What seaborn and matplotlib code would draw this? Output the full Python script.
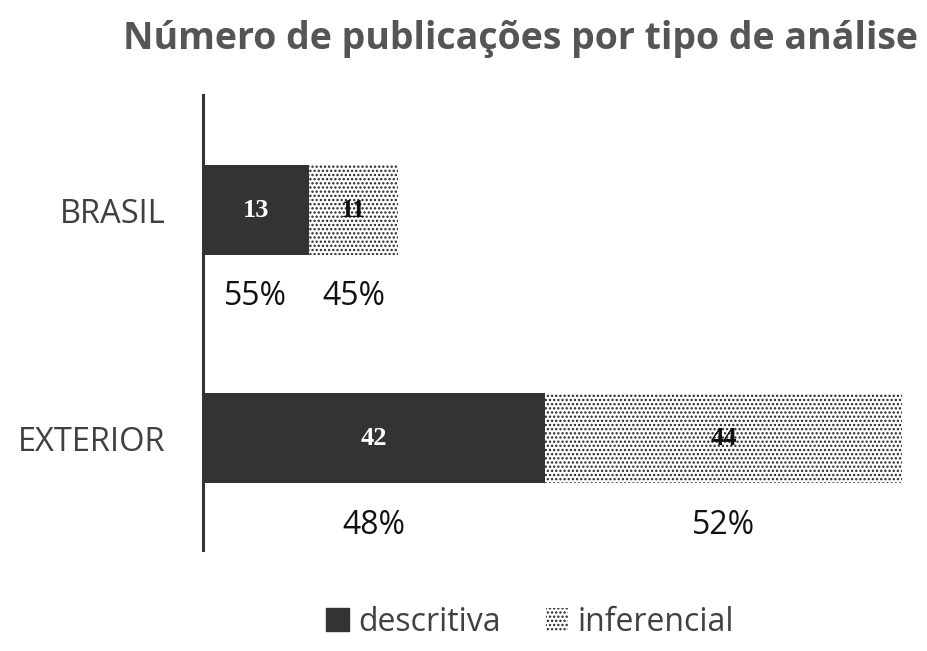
import matplotlib.pyplot as plt
import matplotlib.patches as mpatches
import pandas as pd
import seaborn as sns

# dados
regioes = ["BRASIL", "EXTERIOR"]
descritiva = [13, 42]
inferencial = [11, 44]
pct_descritiva = ["55%", "48%"]
pct_inferencial = ["45%", "52%"]

df = pd.DataFrame({"regiao": regioes, "descritiva": descritiva, "inferencial": inferencial})
df["total"] = df["descritiva"] + df["inferencial"]

sns.set_style("white")
plt.rcParams["font.family"] = ["Open Sans", "DejaVu Sans"]
plt.rcParams["hatch.linewidth"] = 1.1

fig = plt.figure(figsize=(9.27, 6.51), dpi=100)
ax = fig.add_axes([0.219, 0.155, 0.757, 0.699])

# barra do total com pontilhado (inferencial), depois descritiva por cima
sns.barplot(data=df, x="total", y="regiao", orient="y", ax=ax, width=0.395,
            color="white", edgecolor="#222222", linewidth=0, hatch="....")
sns.barplot(data=df, x="descritiva", y="regiao", orient="y", ax=ax, width=0.395,
            color="#333333", edgecolor="#333333", linewidth=0, saturation=1)

ax.set_xlim(0, 86.3)
ax.set_ylim(1.49, -0.505)
ax.set_xlabel("")
ax.set_ylabel("")
ax.set_xticks([])
for s in ["top", "right", "bottom"]:
    ax.spines[s].set_visible(False)
ax.spines["left"].set_color("#333333")
ax.spines["left"].set_linewidth(2.2)
ax.tick_params(axis="y", length=0, pad=27, labelsize=23.5, labelcolor="#404040")

for i, row in df.iterrows():
    d, t = row["descritiva"], row["total"]
    ax.text(d / 2, i, str(d), ha="center", va="center", color="white",
            fontsize=19, fontweight="bold", family="Liberation Serif")
    ax.text(d + (t - d) / 2, i, str(row["inferencial"]), ha="center", va="center",
            color="#111111", fontsize=19, fontweight="bold", family="Liberation Serif")
    ax.text(d / 2, i + 0.38, pct_descritiva[i], ha="center", va="center",
            fontsize=23, color="#111111")
    ax.text(d + (t - d) / 2, i + 0.38, pct_inferencial[i], ha="center", va="center",
            fontsize=23, color="#111111")

fig.suptitle("Número de publicações por tipo de análise", x=0.561, y=0.97,
             fontsize=27, fontweight="bold", color="#555555")

handles = [mpatches.Patch(facecolor="#333333", edgecolor="#333333", label="descritiva"),
           mpatches.Patch(facecolor="white", edgecolor="#222222", linewidth=0,
                          hatch="....", label="inferencial")]
fig.legend(handles=handles, loc="center", bbox_to_anchor=(0.572, 0.044), ncol=2,
           frameon=False, fontsize=23, labelcolor="#404040", handlelength=0.7,
           handleheight=0.7, handletextpad=0.3, columnspacing=1.4)

fig.savefig("out.png", dpi=100)
